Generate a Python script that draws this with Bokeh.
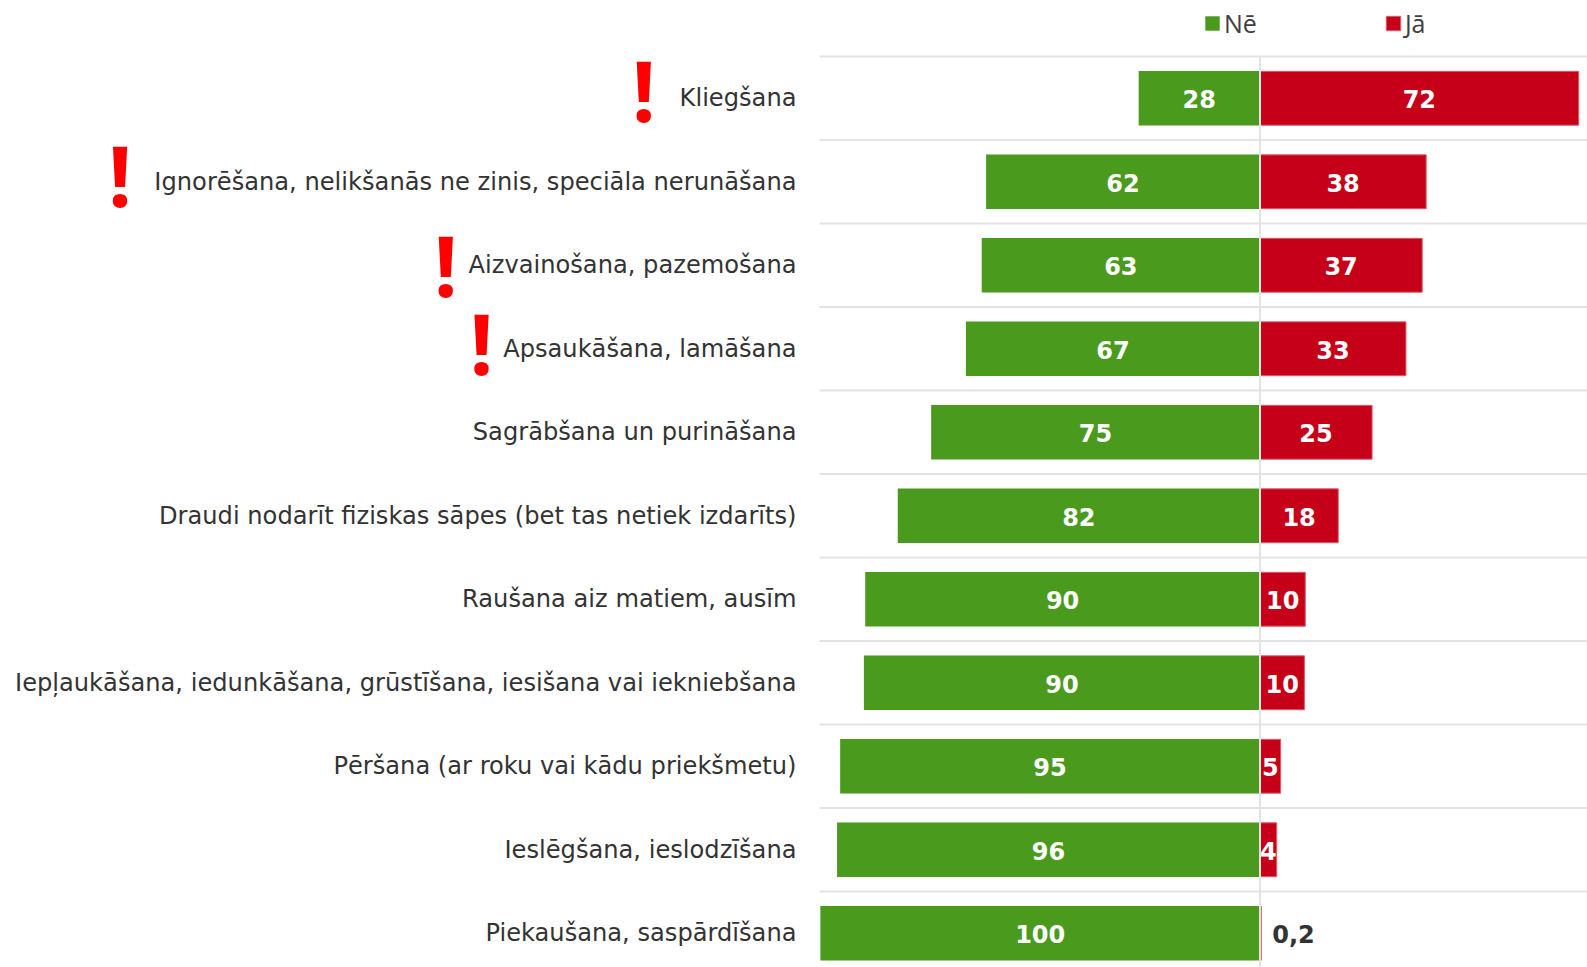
from bokeh.embed import file_html
from bokeh.resources import INLINE
from bokeh.plotting import figure
from bokeh.models import Range1d, Legend, LegendItem, ColumnDataSource
from bokeh.core.properties import value

categories = ["Kliegšana", "Ignorēšana, nelikšanās ne zinis, speciāla nerunāšana", "Aizvainošana, pazemošana",
              "Apsaukāšana, lamāšana", "Sagrābšana un purināšana", "Draudi nodarīt fiziskas sāpes (bet tas netiek izdarīts)",
              "Raušana aiz matiem, ausīm", "Iepļaukāšana, iedunkāšana, grūstīšana, iesišana vai iekniebšana",
              "Pēršana (ar roku vai kādu priekšmetu)", "Ieslēgšana, ieslodzīšana", "Piekaušana, saspārdīšana"]
ne_values = [27.6, 62.3, 63.3, 66.9, 74.8, 82.4, 89.8, 90.1, 95.5, 96.2, 100.0]
ja_values = [72.5, 37.8, 36.9, 33.2, 25.5, 17.8, 10.3, 10.1, 4.7, 3.8, 0.3]
ne_labels = ["28", "62", "63", "67", "75", "82", "90", "90", "95", "96", "100"]
ja_labels = ["72", "38", "37", "33", "25", "18", "10", "10", "5", "4", ""]
small_label = "0,2"
flag_rows = [0, 1, 2, 3]
flag_x = [-140.2, -259.3, -185.2, -177.1]
flag_dy = [-9, -7, -1, -6]

GREEN, RED, RED_EDGE, GREY, TEXT = "#4a9a1e", "#c50018", "#dc5a6a", "#e3e3e3", "#333333"
rows = list(range(len(categories)))
X_MIN, X_BARS, X_MAX = -286.5, -100.2, 74.5

p = figure(width=1587, height=967, output_backend="svg", toolbar_location=None,
           x_range=Range1d(X_MIN, X_MAX), y_range=Range1d(10.41, -1.171),
           min_border=0, outline_line_color=None, background_fill_color="white")
p.axis.visible = False
p.grid.visible = False

p.segment(x0=[X_BARS] * len(rows), x1=[X_MAX] * len(rows), y0=[r - 0.5 for r in rows], y1=[r - 0.5 for r in rows],
          line_color=GREY, line_width=2)

src = ColumnDataSource(dict(y=rows, cat=categories, catx=[X_BARS] * len(rows),
                            ne=[-v for v in ne_values], ja=ja_values,
                            nex=[-v / 2 for v in ne_values], jax=[v / 2 for v in ja_values],
                            nel=ne_labels, jal=ja_labels))
g = p.hbar(y="y", left="ne", right=0, height=0.655, source=src, fill_color=GREEN, line_color=None)
r = p.hbar(y="y", left=0, right="ja", height=0.645, source=src, fill_color=RED, line_color=RED_EDGE, line_width=1)
font = value("DejaVu Sans")
p.text(x="catx", y="y", text="cat", source=src, text_color=TEXT, text_font=font, text_font_size="24.15px",
       text_align="right", text_baseline="middle", x_offset=-23)
p.text(x="nex", y="y", text="nel", source=src, text_color="white", text_font=font, text_font_style="bold",
       text_font_size="24px", text_align="center", text_baseline="middle", y_offset=1)
p.text(x="jax", y="y", text="jal", source=src, text_color="white", text_font=font, text_font_style="bold",
       text_font_size="24px", text_align="center", text_baseline="middle", y_offset=1)
p.text(x=[ja_values[-1]], y=[rows[-1]], text=[small_label], text_color=TEXT, text_font=font, text_font_style="bold",
       text_font_size="24px", text_align="left", text_baseline="middle", x_offset=11, y_offset=1)
p.text(x=flag_x, y=flag_rows, text=["!"] * len(flag_rows), y_offset=flag_dy, text_color="#ff0000",
       text_font=value("Open Sans"), text_font_style="bold", text_font_size="84px",
       text_align="center", text_baseline="middle")
p.segment(x0=[0], x1=[0], y0=[-0.5], y1=[10.4], line_color=GREY, line_width=2, level="overlay")

legend = Legend(items=[LegendItem(label="Nē", renderers=[g]), LegendItem(label="Jā", renderers=[r])],
                orientation="horizontal", location=(1203, 927), background_fill_alpha=0, border_line_color=None,
                label_text_font="Open Sans", label_text_font_size="25px", label_text_color="#404040",
                glyph_width=18, glyph_height=18, label_standoff=3, spacing=127, padding=0, margin=0)
p.add_layout(legend, "center")

open("out.html", "w").write(file_html(p, INLINE))
